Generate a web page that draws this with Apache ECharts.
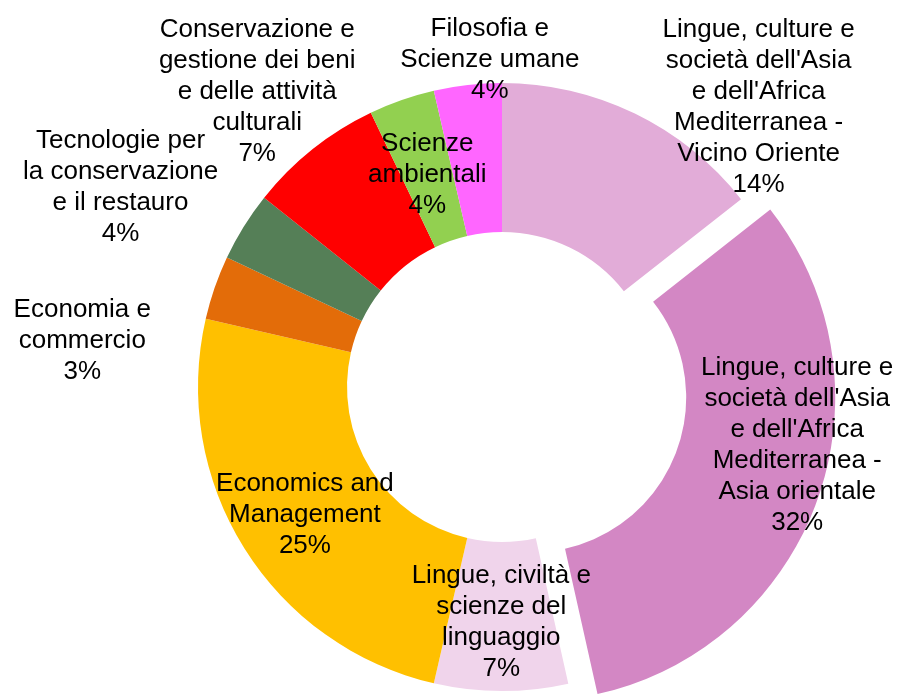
<!DOCTYPE html>
<html>
<head>
<meta charset="utf-8">
<script src="https://cdn.jsdelivr.net/npm/echarts@6/dist/echarts.min.js"></script>
<style>
  html, body { margin: 0; padding: 0; background: #fff; }
  #main { width: 899px; height: 695px; }
</style>
</head>
<body>
<div id="main"></div>
<script>
// dati del grafico (percentuali)
var categories = [
  "Lingue, culture e società dell'Asia e dell'Africa Mediterranea - Vicino Oriente",
  "Lingue, culture e società dell'Asia e dell'Africa Mediterranea - Asia orientale",
  "Lingue, civiltà e scienze del linguaggio",
  "Economics and Management",
  "Economia e commercio",
  "Tecnologie per la conservazione e il restauro",
  "Conservazione e gestione dei beni e delle attività culturali",
  "Scienze ambientali",
  "Filosofia e Scienze umane"
];
var values = [14.4, 32.1, 7.1, 25.0, 3.4, 3.7, 7.2, 3.5, 3.6];
// etichette a capo come nell'originale
var labelText = [
  "Lingue, culture e\nsocietà dell'Asia\ne dell'Africa\nMediterranea -\nVicino Oriente",
  "Lingue, culture e\nsocietà dell'Asia\ne dell'Africa\nMediterranea -\nAsia orientale",
  "Lingue, civiltà e\nscienze del\nlinguaggio",
  "Economics and\nManagement",
  "Economia e\ncommercio",
  "Tecnologie per\nla conservazione\ne il restauro",
  "Conservazione e\ngestione dei beni\ne delle attività\nculturali",
  "Scienze\nambientali",
  "Filosofia e\nScienze umane"
];
var colors = ["#E2ACD8", "#D387C4", "#F0D4EB", "#FFC000", "#E36C09", "#557F57", "#FF0000", "#92D050", "#FF66FF"];
// spostamento etichette (stile Excel)
var labelOffsets = [[155, -71], [47, -30], [0, 3], [0, 4], [-200, 30], [-184, -77], [-100, -113], [2, 7], [14, -96]];
var explodedIndex = 1;

var myChart = echarts.init(document.getElementById("main"));

var seriesData = [];
for (var i = 0; i < categories.length; i++) {
  seriesData.push({
    name: categories[i],
    value: values[i],
    selected: i === explodedIndex,
    itemStyle: { color: colors[i] },
    label: { offset: labelOffsets[i] },
    select: { label: { offset: labelOffsets[i] } }
  });
}

myChart.setOption({
  animation: false,
  series: [
    {
      type: "pie",
      center: [502, 387],
      radius: [155, 304],
      startAngle: 90,
      clockwise: true,
      selectedMode: "single",
      selectedOffset: 31,
      avoidLabelOverlap: false,
      percentPrecision: 0,
      emphasis: { disabled: true },
      labelLayout: { hideOverlap: false },
      label: {
        show: true,
        position: "inside",
        color: "#000",
        fontFamily: "Liberation Sans, Arial, sans-serif",
        fontSize: 26,
        lineHeight: 31,
        align: "center",
        formatter: function (p) {
          return labelText[p.dataIndex] + "\n" + p.percent + "%";
        }
      },
      labelLine: { show: false },
      data: seriesData
    }
  ]
});
</script>
</body>
</html>
